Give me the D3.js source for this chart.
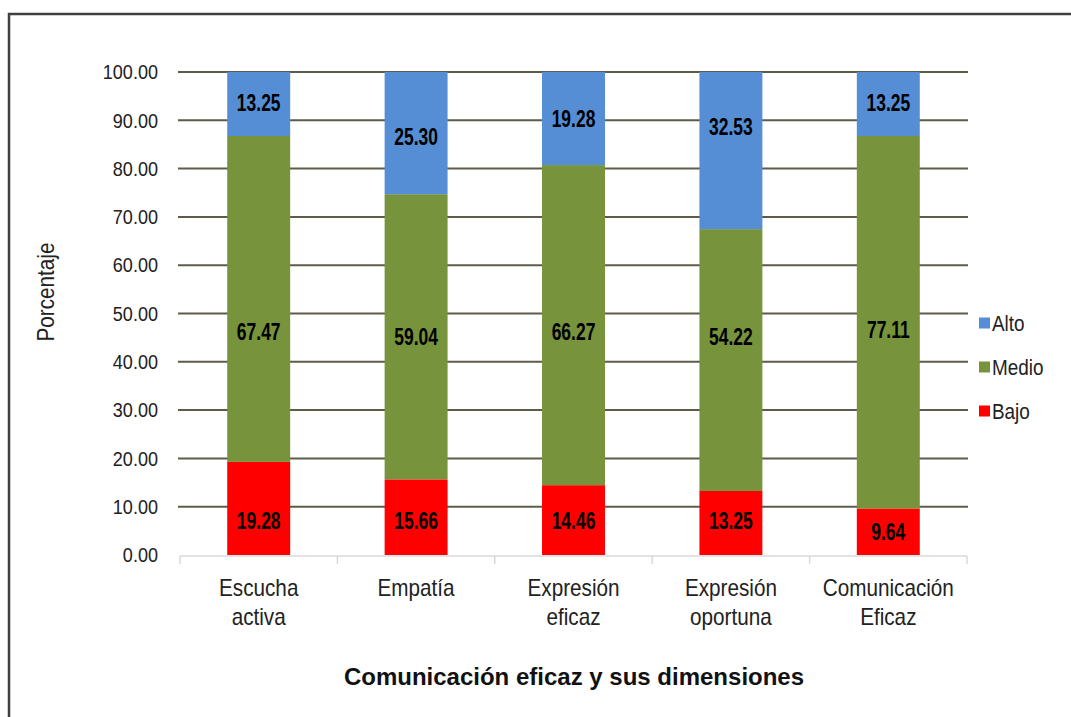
<!DOCTYPE html>
<html lang="es">
<head>
<meta charset="UTF-8">
<title>Comunicación eficaz y sus dimensiones</title>
<script src="https://d3js.org/d3.v7.min.js"></script>
<style>
  body { margin: 0; background: #fff; }
  text { font-family: "Liberation Sans Narrow", "Arial Narrow", "Liberation Sans", Arial, sans-serif; }
</style>
</head>
<body>
<svg width="1071" height="717"></svg>
<script>
// datos
const categories = [["Escucha", "activa"], ["Empatía"], ["Expresión", "eficaz"], ["Expresión", "oportuna"], ["Comunicación", "Eficaz"]];
const seriesNames = ["Bajo", "Medio", "Alto"];
const bajo  = [19.28, 15.66, 14.46, 13.25, 9.64];
const medio = [67.47, 59.04, 66.27, 54.22, 77.11];
const alto  = [13.25, 25.30, 19.28, 32.53, 13.25];
const yTicks = [0, 10, 20, 30, 40, 50, 60, 70, 80, 90, 100];

// where the original chart left its value labels (in % units)
const labelAt = [
  [7.0, 7.0, 7.0, 7.0, 4.8],
  [46.2, 45.1, 46.2, 45.1, 46.6],
  [93.6, 86.5, 90.3, 88.6, 93.6]
];

const colors = { Bajo: "#ff0000", Medio: "#77933c", Alto: "#558ed5" };
const values = [bajo, medio, alto];

const svg = d3.select("svg");

// no narrow font installed: squeeze the text horizontally instead
function squeeze(sel, sx, px, py) {
  sel.attr("transform", `translate(${px},${py}) scale(${sx},1)`)
    .attr("x", 0).attr("y", 0);
}

// marco
svg.append("rect")
  .attr("x", 9).attr("y", 14)
  .attr("width", 1100).attr("height", 760)
  .attr("fill", "none")
  .attr("stroke", "#404040")
  .attr("stroke-width", 2.5);

const x = d3.scaleBand()
  .domain(categories.map((d, i) => i))
  .range([180, 967])
  .paddingInner(0.6)
  .paddingOuter(0.3);

const y = d3.scaleLinear()
  .domain([0, 100])
  .range([555, 72]);

// lineas de cuadricula
svg.append("g")
  .selectAll("line")
  .data(yTicks.filter(t => t > 0))
  .join("line")
  .attr("x1", 178).attr("x2", 968)
  .attr("y1", d => y(d)).attr("y2", d => y(d))
  .attr("stroke", "#5e5c48")
  .attr("stroke-width", 2);

// eje y
svg.append("g")
  .attr("transform", "translate(180,0)")
  .call(d3.axisLeft(y).tickValues(yTicks).tickFormat(d3.format(".2f")).tickSize(0).tickPadding(22))
  .call(g => g.select(".domain").remove())
  .call(g => g.selectAll("text")
    .attr("font-size", 21)
    .attr("font-family", null)
    .attr("fill", "#222")
    .call(squeeze, 0.86, -22, 0));

// barras apiladas
const stack = d3.stack().keys([0, 1, 2]);
const stacked = stack(categories.map((c, i) => values.map(v => v[i])));

stacked.forEach((layer, s) => {
  const g = svg.append("g");
  g.selectAll("rect")
    .data(layer)
    .join("rect")
    .attr("x", (d, i) => x(i))
    .attr("width", x.bandwidth())
    .attr("y", d => y(d[1]))
    .attr("height", d => y(d[0]) - y(d[1]))
    .attr("fill", colors[seriesNames[s]]);
  g.selectAll("text")
    .data(layer)
    .join("text")
    .attr("dy", "0.36em")
    .attr("text-anchor", "middle")
    .attr("font-size", 23)
    .attr("font-weight", "bold")
    .attr("fill", "#000")
    .text((d, i) => values[s][i].toFixed(2))
    .each(function (d, i) {
      d3.select(this).call(squeeze, 0.76, x(i) + x.bandwidth() / 2, y(labelAt[s][i]));
    });
});

// eje x
const step = x.step();
const xAxis = svg.append("g");
xAxis.append("line")
  .attr("x1", 180).attr("x2", 967)
  .attr("y1", 556).attr("y2", 556)
  .attr("stroke", "#d9d9d9").attr("stroke-width", 1.5);
xAxis.selectAll("line.tick")
  .data(d3.range(categories.length + 1))
  .join("line")
  .attr("class", "tick")
  .attr("x1", i => 180 + i * step).attr("x2", i => 180 + i * step)
  .attr("y1", 556).attr("y2", 564)
  .attr("stroke", "#d9d9d9").attr("stroke-width", 1.5);

const xLabels = xAxis.selectAll("text.cat")
  .data(categories)
  .join("text")
  .attr("class", "cat")
  .attr("text-anchor", "middle")
  .attr("font-size", 23)
  .attr("fill", "#222")
  .each(function (d, i) {
    d3.select(this).call(squeeze, 0.9, x(i) + x.bandwidth() / 2, 596);
  });
xLabels.selectAll("tspan")
  .data(d => d)
  .join("tspan")
  .attr("x", 0)
  .attr("dy", (d, j) => j === 0 ? 0 : 29)
  .text(d => d);

// titulo eje x
svg.append("text")
  .attr("x", 574).attr("y", 685)
  .attr("text-anchor", "middle")
  .attr("font-family", "Liberation Sans, Arial, sans-serif")
  .attr("font-weight", "bold")
  .attr("font-size", 24)
  .attr("fill", "#111")
  .text("Comunicación eficaz y sus dimensiones");

// titulo eje y
svg.append("text")
  .attr("transform", "translate(54,292) rotate(-90) scale(0.9,1)")
  .attr("text-anchor", "middle")
  .attr("font-size", 23)
  .attr("fill", "#222")
  .text("Porcentaje");

// leyenda
const legend = svg.append("g")
  .selectAll("g")
  .data(["Alto", "Medio", "Bajo"])
  .join("g")
  .attr("transform", (d, i) => `translate(979,${323 + i * 44})`);
legend.append("rect")
  .attr("x", 0).attr("y", -5.5)
  .attr("width", 11).attr("height", 11)
  .attr("fill", d => colors[d]);
legend.append("text")
  .attr("dy", "0.36em")
  .attr("font-size", 22)
  .attr("fill", "#222")
  .text(d => d)
  .call(squeeze, 0.86, 13, 0);
</script>
</body>
</html>
